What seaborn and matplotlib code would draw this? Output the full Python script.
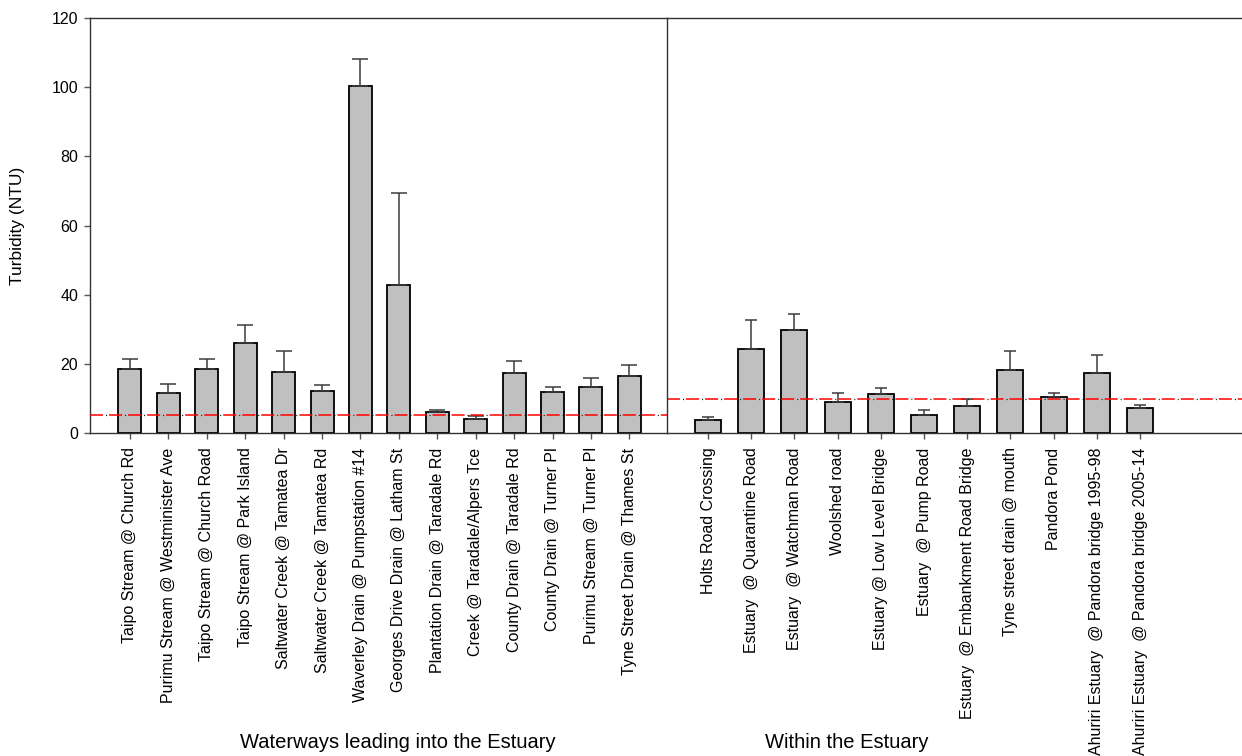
import matplotlib
matplotlib.use("Agg")
import matplotlib.pyplot as plt
import seaborn as sns
import pandas as pd
import numpy as np

# Sites draining into the estuary
inflow_sites = [
    "Taipo Stream @ Church Rd",
    "Purimu Stream @ Westminister Ave",
    "Taipo Stream @ Church Road",
    "Taipo Stream @ Park Island",
    "Saltwater Creek @ Tamatea Dr",
    "Saltwater Creek @ Tamatea Rd",
    "Waverley Drain @ Pumpstation #14",
    "Georges Drive Drain @ Latham St",
    "Plantation Drain @ Taradale Rd",
    "Creek @ Taradale/Alpers Tce",
    "County Drain @ Taradale Rd",
    "County Drain @ Turner Pl",
    "Purimu Stream @ Turner Pl",
    "Tyne Street Drain @ Thames St",
]
inflow_mean = [18.7, 11.7, 18.7, 26.2, 17.9, 12.3, 100.4, 42.9, 6.2, 4.1, 17.4, 12.0, 13.4, 16.7]
inflow_se = [2.8, 2.5, 2.8, 5.2, 6.0, 1.7, 7.7, 26.6, 0.7, 0.9, 3.4, 1.4, 2.6, 3.2]

# Sites within the estuary
estuary_sites = [
    "Holts Road Crossing",
    "Estuary  @ Quarantine Road",
    "Estuary  @ Watchman Road",
    "Woolshed road",
    "Estuary @ Low Level Bridge",
    "Estuary  @ Pump Road",
    "Estuary  @ Embankment Road Bridge",
    "Tyne street drain @ mouth",
    "Pandora Pond",
    "Ahuriri Estuary  @ Pandora bridge 1995-98",
    "Ahuriri Estuary  @ Pandora bridge 2005-14",
]
estuary_mean = [4.0, 24.4, 29.8, 9.0, 11.4, 5.2, 8.0, 18.3, 10.5, 17.6, 7.5]
estuary_se = [0.9, 8.3, 4.8, 2.6, 1.7, 1.7, 2.0, 5.4, 1.1, 5.2, 0.8]

# Guideline values
inflow_guideline = 5.4
estuary_guideline = 10.0

y_ticks = [0, 20, 40, 60, 80, 100, 120]
group_titles = ["Waterways leading into the Estuary", "Within the Estuary"]
y_title = "Turbidity (NTU)"

sns.set_style("ticks")
plt.rcParams["font.family"] = ["Liberation Sans", "DejaVu Sans"]
plt.rcParams["lines.scale_dashes"] = False
plt.rcParams["text.color"] = "black"
plt.rcParams["xtick.labelcolor"] = "black"
plt.rcParams["ytick.labelcolor"] = "black"
plt.rcParams["axes.labelcolor"] = "black"

W, H = 1242, 756
fig = plt.figure(figsize=(W / 100, H / 100), dpi=100)
bottom = 1 - 433.5 / H
height = 415.5 / H
ax1 = fig.add_axes([90 / W, bottom, 577 / W, height])
ax2 = fig.add_axes([667 / W, bottom, (W - 667) / W, height], sharey=ax1)
ax2.patch.set_alpha(0)

AXIS_COLOR = "#333333"


def draw_panel(ax, sites, means, se, guideline, xlim, capsize):
    df = pd.DataFrame({"site": sites, "turbidity": means})
    sns.barplot(data=df, x="site", y="turbidity", color="#c0c0c0", saturation=1,
                edgecolor="black", linewidth=1.3, width=0.6, errorbar=None, ax=ax)
    pos = np.arange(len(sites))
    ax.errorbar(pos, means, yerr=[np.zeros(len(se)), se], fmt="none",
                ecolor="#3c3c3c", elinewidth=1.1, capsize=capsize, capthick=1.1,
                zorder=3)
    # guideline: red dashes with small black dots in the gaps
    ax.axhline(guideline, color="black", lw=0.9, linestyle=(2.5, (0.7, 13.0)), zorder=4)
    ax.axhline(guideline, color="red", lw=1.1, linestyle=(0, (9.4, 4.3)), zorder=5)
    ax.set_xlim(*xlim)
    ax.set_xlabel("")
    ax.set_ylabel("")
    ax.tick_params(axis="x", length=4, width=1, color="#555555", pad=6,
                   labelsize=11.5, labelrotation=90, direction="out")
    for sp in ax.spines.values():
        sp.set_color(AXIS_COLOR)
        sp.set_linewidth(1.0)


draw_panel(ax1, inflow_sites, inflow_mean, inflow_se, inflow_guideline, (-1.04, 13.98), 5.8)
draw_panel(ax2, estuary_sites, estuary_mean, estuary_se, estuary_guideline, (-0.95, 12.36), 4.3)

ax1.set_ylim(0, 120)
ax1.set_yticks(y_ticks)
ax1.tick_params(axis="y", length=4.5, width=1, color="#555555", pad=4,
                labelsize=11.5, direction="out")
ax2.tick_params(axis="y", left=False, labelleft=False)
ax2.spines["right"].set_visible(False)
ax1.spines["right"].set_visible(False)
ax2.spines["left"].set_visible(True)
ax2.spines["left"].set_zorder(6)

fig.text(18 / W, 1 - 225.5 / H, y_title, rotation=90, ha="center", va="center", fontsize=12.5)
fig.text(397.5 / W, 1 - 748.3 / H, group_titles[0], ha="center", va="baseline", fontsize=14.5)
fig.text(846.7 / W, 1 - 748.3 / H, group_titles[1], ha="center", va="baseline", fontsize=14.5)

fig.savefig("out.png", dpi=100)
